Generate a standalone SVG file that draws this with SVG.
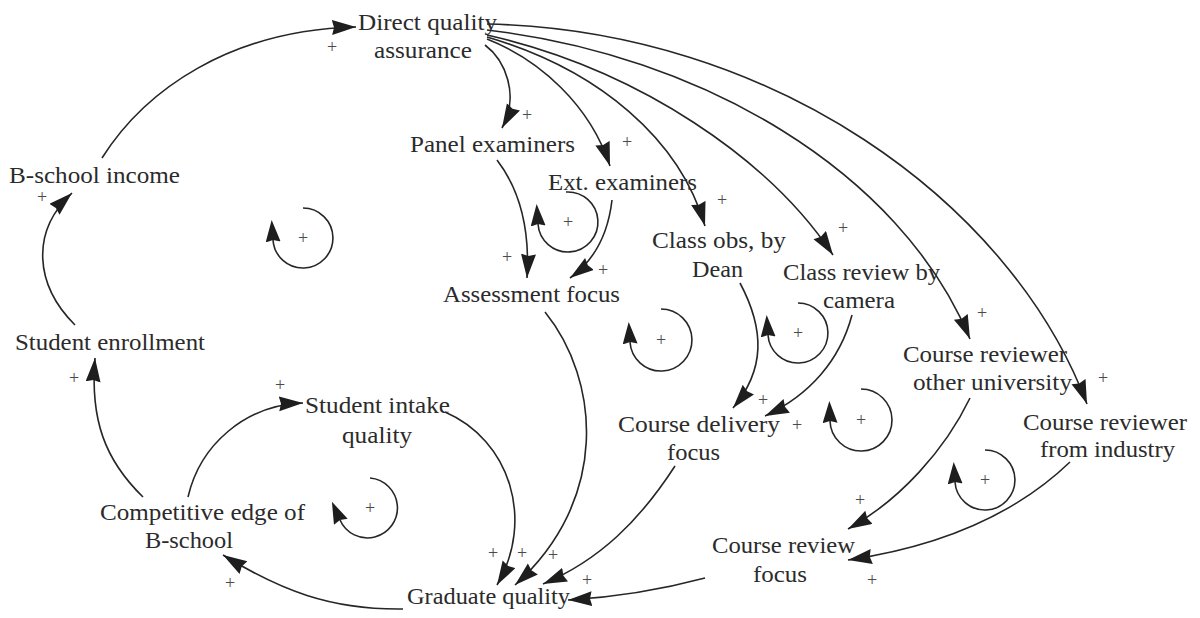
<svg xmlns="http://www.w3.org/2000/svg" width="1200" height="618" viewBox="0 0 1200 618">
  <style>
    .lbl { font-family: "Liberation Serif", "Times New Roman", "DejaVu Serif", serif; font-size: 24px; fill: #2b2b2b; text-anchor: middle; }
    .pol { font-family: "Liberation Serif", "Times New Roman", "DejaVu Serif", serif; font-size: 18px; fill: #4a4a4a; text-anchor: middle; }
    .link { fill: none; stroke: #262626; stroke-width: 1.6; marker-end: url(#head); }
    .loop { fill: none; stroke: #262626; stroke-width: 1.6; marker-end: url(#loophead); }
  </style>
  <defs>
    <marker id="head" markerUnits="userSpaceOnUse" markerWidth="26" markerHeight="16" refX="24" refY="7.5" orient="auto">
      <path d="M0,0 L24,7.5 L0,15 L2,7.5 z" fill="#1e1e1e"/>
    </marker>
    <marker id="loophead" markerUnits="userSpaceOnUse" markerWidth="26" markerHeight="16" refX="2" refY="7.5" orient="auto">
      <path d="M0,0 L22,7.5 L0,15 L2,7.5 z" fill="#1e1e1e"/>
    </marker>
  </defs>
  <rect width="1200" height="618" fill="#ffffff"/>

  <!-- causal links -->
  <g id="connectors">
    <path class="link" d="M102,158 C145,90 230,30 356,27"/>
    <path class="link" d="M75,325 C35,285 30,232 72,193"/>
    <path class="link" d="M143,497 C105,460 90,420 95,358"/>
    <path class="link" d="M188,497 C200,445 245,405 303,403"/>
    <path class="link" d="M403,609 C330,610 280,590 223,555"/>
    <path class="link" d="M445,412 C510,440 535,520 497,585"/>
    <path class="link" d="M545,312 C600,380 610,500 515,585"/>
    <path class="link" d="M675,466 C640,520 600,560 543,584"/>
    <path class="link" d="M705,578 C660,590 620,597 568,600"/>
    <path class="link" d="M485,45 C505,60 520,95 502,128"/>
    <path class="link" d="M487,39 C540,60 590,105 610,166"/>
    <path class="link" d="M487,37 C600,70 680,140 705,226"/>
    <path class="link" d="M487,35 C640,70 770,160 833,255"/>
    <path class="link" d="M487,30 C700,55 900,170 970,339"/>
    <path class="link" d="M487,24 C770,30 1010,200 1087,404"/>
    <path class="link" d="M497,160 C520,190 530,230 527,278"/>
    <path class="link" d="M612,200 C608,235 595,260 570,278"/>
    <path class="link" d="M740,283 C765,330 765,370 733,408"/>
    <path class="link" d="M852,315 C840,360 810,395 765,416"/>
    <path class="link" d="M970,398 C945,450 900,500 848,529"/>
    <path class="link" d="M1070,462 C1020,510 950,545 848,560"/>
  </g>

  <!-- link polarities -->
  <g id="polarities">
    <text class="pol" x="332" y="53">+</text>
    <text class="pol" x="42" y="203">+</text>
    <text class="pol" x="74" y="384">+</text>
    <text class="pol" x="280" y="391">+</text>
    <text class="pol" x="230" y="589">+</text>
    <text class="pol" x="493" y="559">+</text>
    <text class="pol" x="522" y="559">+</text>
    <text class="pol" x="553" y="561">+</text>
    <text class="pol" x="587" y="586">+</text>
    <text class="pol" x="527" y="121">+</text>
    <text class="pol" x="627" y="148">+</text>
    <text class="pol" x="722" y="206">+</text>
    <text class="pol" x="843" y="234" fill="#6f8f6f">+</text>
    <text class="pol" x="982" y="319">+</text>
    <text class="pol" x="1103" y="384">+</text>
    <text class="pol" x="507" y="263">+</text>
    <text class="pol" x="603" y="276">+</text>
    <text class="pol" x="763" y="406">+</text>
    <text class="pol" x="797" y="431">+</text>
    <text class="pol" x="860" y="506" fill="#7a8a6a">+</text>
    <text class="pol" x="872" y="586">+</text>
  </g>

  <!-- reinforcing loop markers -->
  <g id="loops">
    <path class="loop" d="M303,208 A30,30 0 1 1 273,240"/>
    <text class="pol" x="303" y="244">+</text>
    <path class="loop" d="M566,192 A30,30 0 1 1 538,224"/>
    <text class="pol" x="568" y="228">+</text>
    <path class="loop" d="M661,309 A31,31 0 1 1 630,342"/>
    <text class="pol" x="661" y="346">+</text>
    <path class="loop" d="M798,303 A30,30 0 1 1 768,335"/>
    <text class="pol" x="798" y="339" fill="#7a7a5a">+</text>
    <path class="loop" d="M861,389 A31,31 0 1 1 830,421"/>
    <text class="pol" x="861" y="426">+</text>
    <path class="loop" d="M370,478 A30,30 0 1 1 340,520"/>
    <text class="pol" x="370" y="514">+</text>
    <path class="loop" d="M985,450 A30,30 0 1 1 955,482"/>
    <text class="pol" x="985" y="486">+</text>
  </g>

  <!-- variables -->
  <g id="direct-quality-assurance">
    <text class="lbl" x="427.5" y="30" textLength="139" lengthAdjust="spacingAndGlyphs">Direct quality</text>
    <text class="lbl" x="423" y="58" textLength="98" lengthAdjust="spacingAndGlyphs">assurance</text>
  </g>
  <g id="b-school-income">
    <text class="lbl" x="94.5" y="183" textLength="171" lengthAdjust="spacingAndGlyphs">B-school income</text>
  </g>
  <g id="student-enrollment">
    <text class="lbl" x="110" y="350" textLength="190" lengthAdjust="spacingAndGlyphs">Student enrollment</text>
  </g>
  <g id="competitive-edge">
    <text class="lbl" x="202.5" y="520" textLength="205" lengthAdjust="spacingAndGlyphs">Competitive edge of</text>
    <text class="lbl" x="189" y="548" textLength="88" lengthAdjust="spacingAndGlyphs">B-school</text>
  </g>
  <g id="student-intake-quality">
    <text class="lbl" x="377.5" y="413" textLength="145" lengthAdjust="spacingAndGlyphs">Student intake</text>
    <text class="lbl" x="377" y="443" textLength="70" lengthAdjust="spacingAndGlyphs">quality</text>
  </g>
  <g id="graduate-quality">
    <text class="lbl" x="488.5" y="604" textLength="163" lengthAdjust="spacingAndGlyphs">Graduate quality</text>
  </g>
  <g id="panel-examiners">
    <text class="lbl" x="492.5" y="152" textLength="165" lengthAdjust="spacingAndGlyphs">Panel examiners</text>
  </g>
  <g id="ext-examiners">
    <text class="lbl" x="622.5" y="190" textLength="149" lengthAdjust="spacingAndGlyphs">Ext. examiners</text>
  </g>
  <g id="assessment-focus">
    <text class="lbl" x="531.5" y="302" textLength="177" lengthAdjust="spacingAndGlyphs">Assessment focus</text>
  </g>
  <g id="class-obs-dean">
    <text class="lbl" x="719" y="248" textLength="134" lengthAdjust="spacingAndGlyphs">Class obs, by</text>
    <text class="lbl" x="717.5" y="277" textLength="51" lengthAdjust="spacingAndGlyphs">Dean</text>
  </g>
  <g id="class-review-camera">
    <text class="lbl" x="861.5" y="280" textLength="157" lengthAdjust="spacingAndGlyphs">Class review by</text>
    <text class="lbl" x="859" y="308" textLength="72" lengthAdjust="spacingAndGlyphs">camera</text>
  </g>
  <g id="course-delivery-focus">
    <text class="lbl" x="699" y="432" textLength="162" lengthAdjust="spacingAndGlyphs">Course delivery</text>
    <text class="lbl" x="693.5" y="460" textLength="53" lengthAdjust="spacingAndGlyphs">focus</text>
  </g>
  <g id="reviewer-other-university">
    <text class="lbl" x="985" y="362" textLength="164" lengthAdjust="spacingAndGlyphs">Course reviewer</text>
    <text class="lbl" x="992.5" y="390" textLength="159" lengthAdjust="spacingAndGlyphs">other university</text>
  </g>
  <g id="reviewer-industry">
    <text class="lbl" x="1105" y="430" textLength="164" lengthAdjust="spacingAndGlyphs">Course reviewer</text>
    <text class="lbl" x="1107.5" y="457" textLength="135" lengthAdjust="spacingAndGlyphs">from industry</text>
  </g>
  <g id="course-review-focus">
    <text class="lbl" x="783.5" y="553" textLength="143" lengthAdjust="spacingAndGlyphs">Course review</text>
    <text class="lbl" x="780" y="582" textLength="54" lengthAdjust="spacingAndGlyphs">focus</text>
  </g>
</svg>
